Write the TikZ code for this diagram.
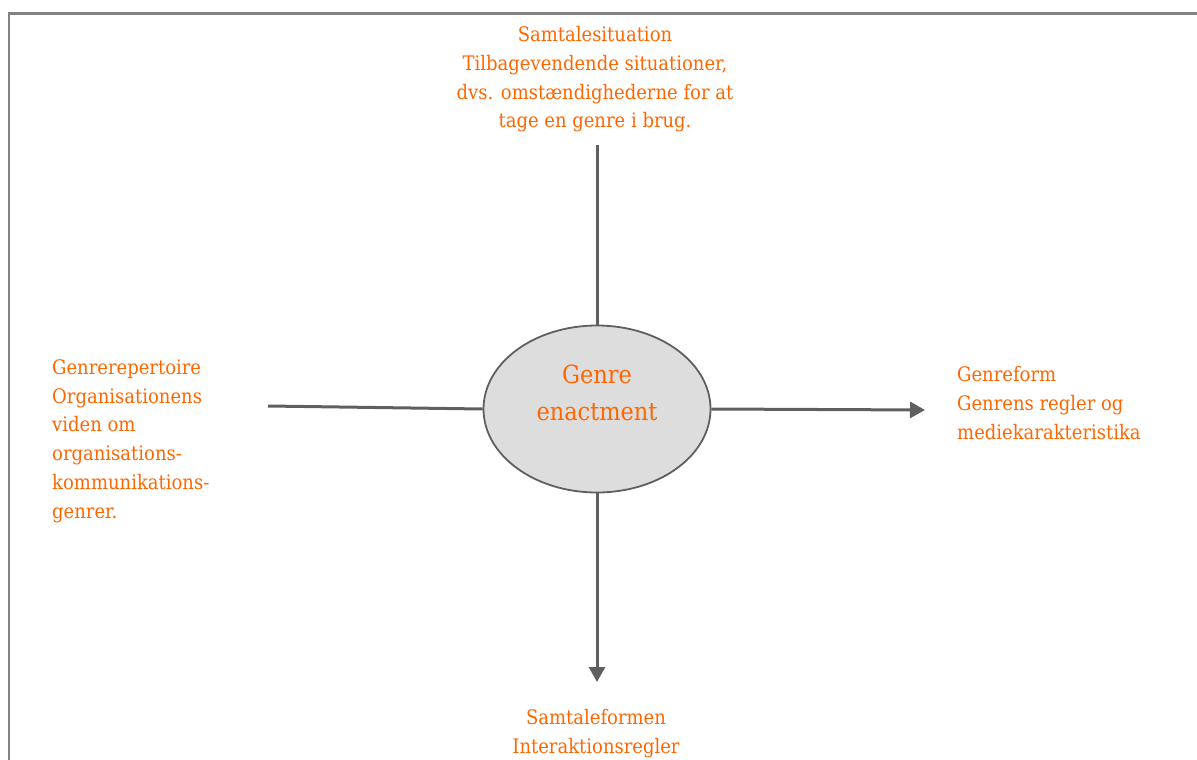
\documentclass[tikz,border=0pt]{standalone}
\usepackage{fontspec}
\setmainfont{DejaVu Serif Condensed}
\usetikzlibrary{shapes.geometric,arrows.meta}
\definecolor{labelorange}{RGB}{255,102,0}
\definecolor{linegray}{RGB}{95,95,95}
\definecolor{framegray}{RGB}{130,130,130}
\definecolor{ellipsefill}{RGB}{221,221,221}
\tikzset{
  lbl/.style={text=labelorange, font=\fontsize{20}{28.7}\selectfont, inner sep=0pt},
  conn/.style={draw=linegray, line width=3pt},
  arr/.style={conn, -{Triangle[length=15pt,width=16pt]}},
}
\begin{document}
\begin{tikzpicture}[x=1pt,y=-1pt]
\useasboundingbox (0,0) rectangle (1197,760);
% frame
\draw[framegray, line width=2.5pt] (9,800) -- (9,13.5) -- (1240,13.5);
% centre
\node[ellipse, draw=linegray, line width=1.8pt, fill=ellipsefill,
      minimum width=227pt, minimum height=167pt, inner sep=0pt] (enact) at (597,409) {};
\node[lbl, font=\fontsize{25}{37}\selectfont, align=center, anchor=base] (enacttxt) at (597,420) {Genre\\enactment};
% ends of the connectors
\coordinate (topend) at (597,145);
\coordinate (leftend) at (268,406);
\coordinate (rightend) at (925,410);
\coordinate (bottomend) at (597,682);
\draw[conn] (topend) -- (enact.north);
\draw[conn] (leftend) -- (enact.west);
\draw[arr] (enact.east) -- (rightend);
\draw[arr] (enact.south) -- (bottomend);
% labels
\node[lbl, align=center, anchor=base] (situation) at (595,128) {Samtalesituation\\Tilbagevendende situationer,\\dvs. omstændighederne for at\\tage en genre i brug.};
\node[lbl, align=left, anchor=base west] (repertoire) at (52,518) {Genrerepertoire\\Organisationens\\viden om\\organisations-\\kommunikations-\\genrer.};
\node[lbl, align=left, anchor=base west] (genreform) at (957,439) {Genreform\\Genrens regler og\\mediekarakteristika};
\node[lbl, align=center, anchor=base] (samtaleform) at (596,753) {Samtaleformen\\Interaktionsregler};
\end{tikzpicture}
\end{document}
